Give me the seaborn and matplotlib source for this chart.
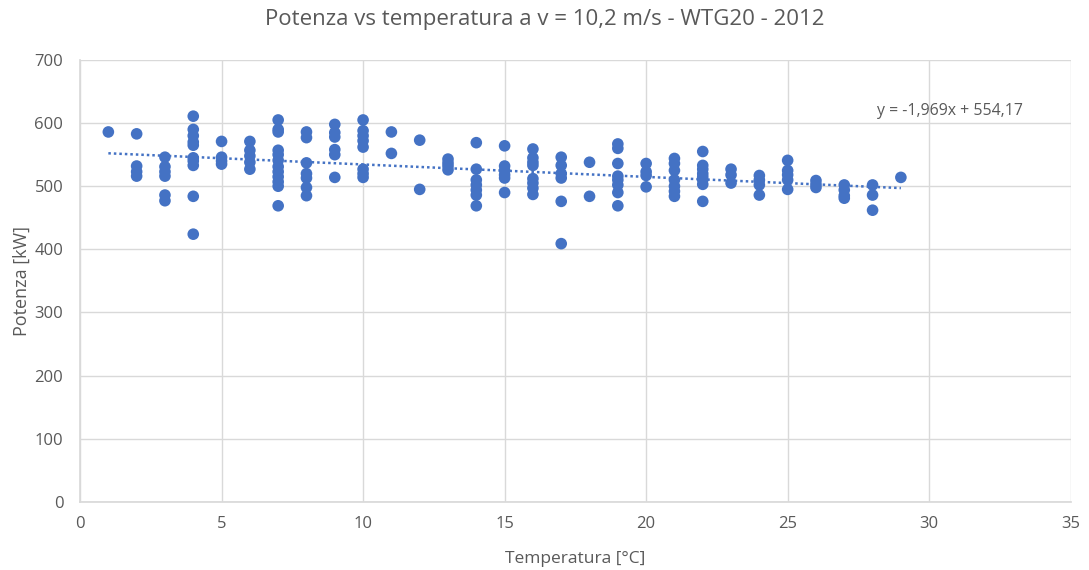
import numpy as np
import pandas as pd
import seaborn as sb
import matplotlib
matplotlib.use("Agg")
import matplotlib.pyplot as plt

# power readings [kW] grouped by temperature [°C]
temperature = [1, 2, 3, 4, 5, 6, 7, 8, 9, 10, 11, 12, 13, 14, 15,
               16, 17, 18, 19, 20, 21, 22, 23, 24, 25, 26, 27, 28, 29]
power = [
    [586],
    [583, 532, 523, 516],
    [546, 531, 523, 516, 486, 477],
    [611, 590, 580, 570, 565, 545, 540, 533, 484, 424],
    [571, 546, 540, 535],
    [571, 557, 548, 538, 527],
    [605, 590, 586, 557, 550, 541, 531, 523, 515, 507, 500, 469],
    [586, 577, 537, 520, 513, 498, 485],
    [598, 585, 578, 558, 550, 514],
    [605, 588, 580, 572, 562, 527, 520, 514],
    [586, 552],
    [573, 495],
    [543, 537, 532, 526],
    [569, 527, 510, 502, 494, 486, 469],
    [564, 532, 525, 518, 513, 490],
    [559, 545, 538, 533, 512, 505, 497, 487],
    [546, 533, 520, 513, 476, 409],
    [538, 484],
    [567, 560, 536, 516, 510, 502, 490, 469],
    [536, 523, 517, 499],
    [544, 536, 525, 510, 500, 492, 484],
    [555, 533, 527, 520, 515, 510, 503, 476],
    [527, 518, 505],
    [517, 510, 502, 486],
    [541, 525, 518, 510, 495],
    [509, 503, 498],
    [502, 494, 485, 481],
    [502, 486, 462],
    [514],
]
slope, intercept = -1.969, 554.17

BLUE = "#4472C4"
GREY = "#595959"

rows = [(t, p) for t, group in zip(temperature, power) for p in group]
dset = pd.DataFrame(rows, columns=["temp", "power"])

sb.set_theme(style="whitegrid")
plt.rcParams["font.family"] = ["Open Sans", "DejaVu Sans"]

fig = plt.figure(figsize=(10.89, 5.70), dpi=100)
ax = fig.add_axes([0.0735, 0.1198, 0.9097, 0.7749])

sb.scatterplot(data=dset, x="temp", y="power", color=BLUE, s=70,
               edgecolor="none", ax=ax)

# linear trendline over the data range
xt = np.array([dset["temp"].min(), dset["temp"].max()])
ax.plot(xt, slope * xt + intercept, color=BLUE, lw=1.8, ls=(0, (1, 1.2)))
ax.text(28.15, 619, "y = -1,969x + 554,17", color=GREY, fontsize=11.4,
        ha="left", va="center")

ax.set_xlim(0, 35)
ax.set_ylim(0, 700)
ax.set_xticks(range(0, 36, 5))
ax.set_yticks(range(0, 701, 100))
ax.grid(True, color="#D9D9D9", lw=1)
for side in ["top", "right"]:
    ax.spines[side].set_visible(False)
for side in ["left", "bottom"]:
    ax.spines[side].set_color("#D9D9D9")
ax.tick_params(colors=GREY, labelsize=12, length=0)
ax.tick_params(axis="y", pad=12)
ax.tick_params(axis="x", pad=10)

ax.set_xlabel("Temperatura [°C]", color=GREY, fontsize=12.5, labelpad=14)
ax.set_ylabel("Potenza [kW]", color=GREY, fontsize=13, labelpad=3)
fig.suptitle("Potenza vs temperatura a v = 10,2 m/s - WTG20 - 2012",
             color=GREY, fontsize=16, y=0.985)

fig.savefig("out.png", dpi=100)
